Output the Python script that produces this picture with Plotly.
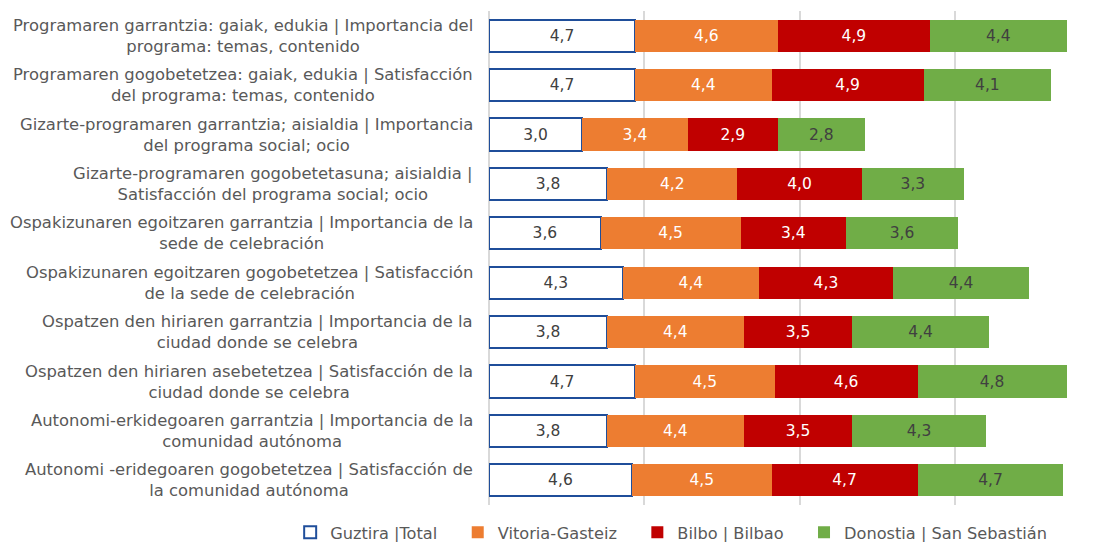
import plotly.graph_objects as go

categories = [
    "Programaren garrantzia: gaiak, edukia | Importancia del<br>programa: temas, contenido",
    "Programaren gogobetetzea: gaiak, edukia | Satisfacción<br>del programa: temas, contenido",
    "Gizarte-programaren garrantzia; aisialdia | Importancia<br>del programa social; ocio",
    "Gizarte-programaren gogobetetasuna; aisialdia |<br>Satisfacción del programa social; ocio",
    "Ospakizunaren egoitzaren garrantzia | Importancia de la<br>sede de celebración",
    "Ospakizunaren egoitzaren gogobetetzea | Satisfacción<br>de la sede de celebración",
    "Ospatzen den hiriaren garrantzia | Importancia de la<br>ciudad donde se celebra",
    "Ospatzen den hiriaren asebetetzea | Satisfacción de la<br>ciudad donde se celebra",
    "Autonomi-erkidegoaren garrantzia | Importancia de la<br>comunidad autónoma",
    "Autonomi -eridegoaren gogobetetzea | Satisfacción de<br>la comunidad autónoma",
]

total = [4.7, 4.7, 3.0, 3.8, 3.6, 4.3, 3.8, 4.7, 3.8, 4.6]
vitoria = [4.6, 4.4, 3.4, 4.2, 4.5, 4.4, 4.4, 4.5, 4.4, 4.5]
bilbao = [4.9, 4.9, 2.9, 4.0, 3.4, 4.3, 3.5, 4.6, 3.5, 4.7]
donostia = [4.4, 4.1, 2.8, 3.3, 3.6, 4.4, 4.4, 4.8, 4.3, 4.7]

FONT = "DejaVu Sans"
PAD = "\u00a0\u00a0\u00a0"  # extra room after a legend entry

series = [
    ("Guztira |Total", total, "white", "#1F4E9A", 2, "#404040", PAD),
    ("Vitoria-Gasteiz", vitoria, "#ED7D31", "#ED7D31", 0, "white", PAD),
    ("Bilbo | Bilbao", bilbao, "#C00000", "#C00000", 0, "white", PAD),
    ("Donostia | San Sebastián", donostia, "#70AD47", "#70AD47", 0, "#404040", ""),
]

fig = go.Figure()
for name, vals, fill, edge, lw, tcol, pad in series:
    fig.add_trace(
        go.Bar(
            y=categories,
            x=vals,
            name=name + pad,
            orientation="h",
            marker=dict(color=fill, line=dict(color=edge, width=lw)),
            texttemplate="%{x:.1f}",
            textposition="inside",
            insidetextanchor="middle",
            textangle=0,
            textfont=dict(family=FONT, size=15.5, color=tcol),
        )
    )

# category labels, centred lines like the original
for cat in categories:
    fig.add_annotation(
        x=0, xref="paper", xanchor="right", xshift=-14,
        y=cat, yref="y", yanchor="middle",
        text=cat, align="center", showarrow=False,
        font=dict(family=FONT, size=16.4, color="#595959"),
    )

fig.update_layout(
    barmode="stack",
    bargap=0.35,
    width=1094,
    height=542,
    margin=dict(l=489, r=15, t=11, b=37, autoexpand=False),
    paper_bgcolor="white",
    plot_bgcolor="white",
    separators=", ",
    font=dict(family=FONT, color="#595959"),
    legend=dict(
        orientation="h",
        x=-0.337, xanchor="left",
        y=-0.056, yanchor="middle",
        font=dict(family=FONT, size=16.2, color="#595959"),
        traceorder="normal",
    ),
    xaxis=dict(
        range=[0, 19],
        showticklabels=False,
        showgrid=True,
        gridcolor="#D9D9D9",
        gridwidth=1.5,
        dtick=5,
        zeroline=True,
        zerolinecolor="#D9D9D9",
        zerolinewidth=1.5,
        fixedrange=True,
    ),
    yaxis=dict(
        type="category",
        autorange="reversed",
        showticklabels=False,
        showgrid=False,
        fixedrange=True,
    ),
)

fig.write_html(
    "out.html",
    config={"displayModeBar": False},
    post_script="document.body.style.margin='0';",
)
